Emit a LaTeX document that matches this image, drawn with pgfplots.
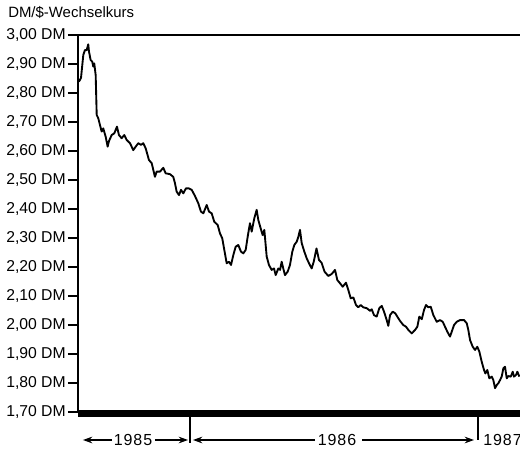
\documentclass[border=0pt]{standalone}
\usepackage{pgfplots}
\pgfplotsset{compat=1.18}
\usepackage{fontspec}
\setmainfont{Liberation Sans}
\usetikzlibrary{arrows.meta}
\begin{document}
\begin{tikzpicture}
\useasboundingbox (0,0) rectangle (390pt,337.5pt);
\begin{axis}[
  at={(58.5pt,28.5pt)}, anchor=south west,
  scale only axis, width=331.5pt, height=282.75pt,
  xmin=-141.9, xmax=418.2, ymin=1.70, ymax=3.00,
  axis line style={draw=none},
  xtick=\empty,
  ytick={1.7,1.8,1.9,2.0,2.1,2.2,2.3,2.4,2.5,2.6,2.7,2.8,2.9,3.0},
  ytick pos=left, ytick align=outside,
  major tick length=7.5pt,
  tick style={black, line width=0.8pt},
  /pgf/number format/assume math mode=true,
  yticklabel={\pgfmathprintnumber[fixed,fixed zerofill,precision=2,use comma]{\tick} DM},
  yticklabel style={font=\fontsize{11.8}{13}\selectfont, inner sep=1.5pt},
  clip=false,
]
\addplot[black, line width=1.4pt, line join=round] coordinates {
(-140.7,2.839) (-138.1,2.852) (-135.2,2.931) (-133.1,2.948) (-130.9,2.948)
(-128.9,2.968) (-128.0,2.943) (-125.9,2.914) (-123.8,2.908) (-122.6,2.891)
(-121.3,2.902) (-119.5,2.862) (-118.2,2.724) (-116.2,2.713) (-114.1,2.690)
(-111.9,2.667) (-109.9,2.678) (-106.8,2.649) (-104.3,2.615) (-102.7,2.634)
(-99.2,2.655) (-95.9,2.661) (-92.5,2.684) (-90.0,2.655) (-86.6,2.644)
(-83.3,2.655) (-80.2,2.638) (-76.0,2.627) (-71.9,2.603) (-68.8,2.615)
(-65.5,2.627) (-62.1,2.621) (-59.2,2.627) (-56.1,2.609) (-52.0,2.569)
(-48.5,2.558) (-44.4,2.511) (-42.2,2.529) (-38.0,2.529) (-33.8,2.542)
(-30.8,2.523) (-25.3,2.520) (-21.2,2.511) (-19.0,2.489) (-16.9,2.460)
(-13.9,2.448) (-11.4,2.466) (-8.5,2.454) (-5.1,2.471) (-1.3,2.471)
(2.2,2.466) (6.3,2.445) (10.5,2.420) (13.9,2.391) (16.9,2.385)
(21.2,2.414) (24.1,2.391) (27.5,2.385) (30.8,2.356) (35.1,2.345)
(38.0,2.316) (40.9,2.299) (43.5,2.259) (46.5,2.213) (49.4,2.218)
(52.0,2.207) (54.9,2.241) (57.9,2.270) (61.2,2.276) (64.6,2.253)
(67.6,2.247) (70.6,2.259) (73.1,2.304) (76.0,2.351) (78.2,2.322)
(81.5,2.368) (84.5,2.397) (86.6,2.362) (89.6,2.333) (92.1,2.310)
(94.2,2.328) (97.2,2.236) (100.1,2.207) (103.5,2.190) (106.5,2.195)
(108.6,2.172) (111.9,2.195) (114.1,2.190) (116.2,2.218) (118.2,2.195)
(120.4,2.172) (123.8,2.184) (126.7,2.207) (129.7,2.253) (132.2,2.276)
(135.2,2.287) (137.3,2.304) (139.4,2.328) (141.6,2.282) (144.9,2.253)
(147.9,2.230) (150.8,2.213) (154.2,2.195) (156.8,2.218) (160.3,2.264)
(163.5,2.224) (166.7,2.215) (170.5,2.184) (175.3,2.169) (179.6,2.176)
(183.8,2.190) (186.7,2.155) (190.1,2.144) (193.5,2.132) (197.7,2.146)
(200.6,2.121) (203.7,2.092) (207.0,2.095) (210.4,2.069) (213.3,2.061)
(216.3,2.069) (219.6,2.061) (224.0,2.058) (228.1,2.049) (230.3,2.054)
(233.2,2.034) (236.6,2.029) (239.9,2.058) (243.0,2.066) (245.9,2.046)
(249.3,2.017) (251.3,1.997) (253.5,2.034) (256.9,2.046) (260.2,2.040)
(262.7,2.029) (266.2,2.014) (270.3,2.000) (273.8,1.994) (276.7,1.983)
(281.0,1.971) (285.2,1.983) (288.1,1.994) (290.6,2.029) (293.7,2.020)
(296.6,2.052) (299.1,2.069) (302.0,2.061) (305.1,2.063) (308.4,2.034)
(312.7,2.011) (316.9,2.017) (320.3,2.011) (323.2,1.994) (326.1,1.977)
(329.5,1.960) (331.7,1.977) (334.6,2.000) (338.0,2.011) (342.2,2.017)
(347.3,2.017) (350.7,2.006) (352.7,1.983) (354.9,1.948) (358.3,1.925)
(361.2,1.914) (364.1,1.925) (366.7,1.908) (369.7,1.873) (372.6,1.845)
(374.3,1.833) (376.8,1.845) (379.3,1.816) (382.4,1.822) (384.4,1.810)
(386.6,1.782) (388.7,1.793) (390.7,1.799) (392.9,1.810) (395.0,1.822)
(397.1,1.851) (399.2,1.856) (401.4,1.816) (403.4,1.824) (406.5,1.822)
(409.0,1.839) (410.6,1.822) (413.2,1.828) (414.8,1.839) (417.4,1.822)
};
% frame: left and top lines, thick bottom bar
\draw[black, line width=1.1pt] (rel axis cs:0,0) -- (rel axis cs:0,1) -- (rel axis cs:1,1);
\draw[black, line width=5.25pt] ([yshift=-1.1pt]rel axis cs:0,0) -- ([yshift=-1.1pt]rel axis cs:1,0);
% year separators
\draw[black, line width=0.8pt] ([yshift=-3.5pt]axis cs:0,1.7) -- ([yshift=-23pt]axis cs:0,1.7);
\draw[black, line width=0.8pt] ([yshift=-3.5pt]axis cs:365,1.7) -- ([yshift=-21pt]axis cs:365,1.7);
% year arrows
\tikzset{yr/.style={black, line width=0.8pt, -{Stealth[length=7pt,width=5pt]}}}
\draw[yr] ([yshift=-21pt]axis cs:-98.9,1.7) -- ([yshift=-21pt]axis cs:-135.6,1.7);
\draw[yr] ([yshift=-21pt]axis cs:-44.4,1.7) -- ([yshift=-21pt]axis cs:-2.5,1.7);
\draw[yr] ([yshift=-21pt]axis cs:158.4,1.7) -- ([yshift=-21pt]axis cs:3.8,1.7);
\draw[yr] ([yshift=-21pt]axis cs:218,1.7) -- ([yshift=-21pt]axis cs:359.9,1.7);
\tikzset{yrt/.style={anchor=base, inner sep=0pt, font=\fontsize{12}{14}\selectfont\addfontfeature{LetterSpace=6}}}
\node[yrt] at ([yshift=-25pt]axis cs:-72.2,1.7) {1985};
\node[yrt] at ([yshift=-25pt]axis cs:186.3,1.7) {1986};
\node[yrt, anchor=base west] at ([yshift=-25pt]axis cs:371.3,1.7) {1987};
% title
\node[anchor=base west, inner sep=0pt, font=\fontsize{11.2}{13}\selectfont]
  at ([xshift=-52.5pt, yshift=12.75pt]rel axis cs:0,1) {DM/\$-Wechselkurs};
\end{axis}
\end{tikzpicture}
\end{document}
